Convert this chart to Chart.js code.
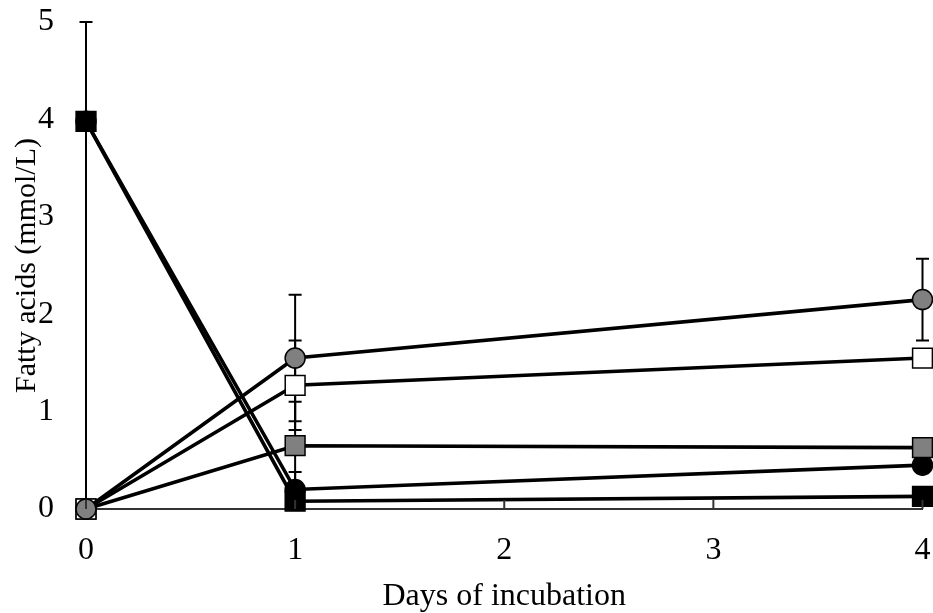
<!DOCTYPE html>
<html>
<head>
<meta charset="utf-8">
<script src="https://cdn.jsdelivr.net/npm/chart.js@4/dist/chart.umd.min.js"></script>
<style>
    html, body { margin: 0; padding: 0; background: #fff; overflow: hidden; }
    #chart { display: block; }
</style>
</head>
<body>
<!-- a few px wider than the window so the last x tick lands at 922 -->
<canvas id="chart" width="938" height="613"></canvas>
<script>
const days = [0, 1, 4];
const xTicks = [0, 1, 2, 3, 4];
const yTicks = [0, 1, 2, 3, 4, 5];

const grayCircle = [0, 1.55, 2.15];
const grayCircleErr = [0, 0.65, 0.42];
const whiteSquare = [0, 1.27, 1.55];
const whiteSquareErr = [0, 0.46, 0.04];
const graySquare = [0, 0.65, 0.63];
const graySquareErr = [0, 0.45, 0.04];
const blackCircle = [3.98, 0.2, 0.45];
const blackCircleErr = [0, 0.18, 0.04];
const blackSquare = [3.98, 0.08, 0.13];
const blackSquareErr = [1.02, 0.03, 0.03];
const blackSquareErrLow = [0, 0.03, 0.03];

const font = '"Liberation Serif", "Times New Roman", serif';

function makeSeries(values, errUp, errLow, fill, style, radius) {
    return {
        data: values.map((v, i) => ({ x: days[i], y: v })),
        errUp: errUp,
        errLow: errLow,
        borderColor: '#000',
        borderWidth: 3.6,
        backgroundColor: fill,
        pointBackgroundColor: fill,
        pointBorderColor: '#000',
        pointBorderWidth: 1.5,
        pointStyle: style,
        pointRadius: radius,
        tension: 0,
        clip: false
    };
}

// error bars drawn under the markers
const errorBars = {
    id: 'errorBars',
    beforeDatasetsDraw(chart) {
        const ctx = chart.ctx;
        const xs = chart.scales.x;
        const ys = chart.scales.y;
        ctx.save();
        ctx.strokeStyle = '#000';
        ctx.lineWidth = 2;
        chart.data.datasets.forEach(ds => {
            ds.data.forEach((p, i) => {
                const x = xs.getPixelForValue(p.x);
                const c = ys.getPixelForValue(p.y);
                const up = ds.errUp[i];
                const low = ds.errLow[i];
                ctx.beginPath();
                if (up) {
                    const top = ys.getPixelForValue(p.y + up);
                    ctx.moveTo(x, c);
                    ctx.lineTo(x, top);
                    ctx.moveTo(x - 6.5, top);
                    ctx.lineTo(x + 6.5, top);
                }
                if (low) {
                    const bot = ys.getPixelForValue(Math.max(0, p.y - low));
                    ctx.moveTo(x, c);
                    ctx.lineTo(x, bot);
                    if (p.y - low > 0) {
                        ctx.moveTo(x - 6.5, bot);
                        ctx.lineTo(x + 6.5, bot);
                    }
                }
                ctx.stroke();
            });
        });
        ctx.restore();
    }
};

// small inward tick marks on the x axis
const xTickMarks = {
    id: 'xTickMarks',
    afterDraw(chart) {
        const ctx = chart.ctx;
        const xs = chart.scales.x;
        const y0 = chart.chartArea.bottom;
        ctx.save();
        ctx.strokeStyle = '#333';
        ctx.lineWidth = 2;
        xTicks.forEach(t => {
            const x = xs.getPixelForValue(t);
            ctx.beginPath();
            ctx.moveTo(x, y0);
            ctx.lineTo(x, y0 - 9);
            ctx.stroke();
        });
        ctx.restore();
    }
};

new Chart(document.getElementById('chart'), {
    type: 'line',
    data: {
        datasets: [
            makeSeries(grayCircle, grayCircleErr, grayCircleErr, '#808080', 'circle', 10),
            makeSeries(whiteSquare, whiteSquareErr, whiteSquareErr, '#ffffff', 'rect', 14),
            makeSeries(graySquare, graySquareErr, graySquareErr, '#808080', 'rect', 14),
            makeSeries(blackCircle, blackCircleErr, blackCircleErr, '#000000', 'circle', 10),
            makeSeries(blackSquare, blackSquareErr, blackSquareErrLow, '#000000', 'rect', 14)
        ]
    },
    options: {
        responsive: false,
        animation: false,
        layout: { padding: { top: 22, right: 0, left: 0, bottom: 0 } },
        plugins: {
            legend: { display: false },
            tooltip: { enabled: false }
        },
        scales: {
            x: {
                type: 'linear',
                min: 0,
                max: 4,
                afterBuildTicks: s => { s.ticks = xTicks.map(v => ({ value: v })); },
                afterFit: s => {
                    s.height = 104;
                    s.paddingLeft = 0;
                    s.paddingRight = 0;
                },
                grid: { display: false, drawTicks: false },
                border: { display: true, color: '#333', width: 2 },
                ticks: { padding: 22, color: '#000', font: { family: font, size: 32 } },
                title: {
                    display: true,
                    text: 'Days of incubation',
                    color: '#000',
                    padding: 0,
                    font: { family: font, size: 32, lineHeight: 1 }
                }
            },
            y: {
                min: 0,
                max: 5,
                afterBuildTicks: s => { s.ticks = yTicks.map(v => ({ value: v })); },
                afterFit: s => {
                    s.width = 86;
                    s.paddingTop = 0;
                    s.paddingBottom = 0;
                },
                grid: { display: false, drawTicks: false },
                border: { display: true, color: '#000', width: 2 },
                ticks: { padding: 32, color: '#000', font: { family: font, size: 32 } },
                title: {
                    display: true,
                    text: 'Fatty acids (mmol/L)',
                    color: '#000',
                    padding: { top: 12, bottom: 0 },
                    font: { family: font, size: 30, lineHeight: 1 }
                }
            }
        }
    },
    plugins: [errorBars, xTickMarks]
});
</script>
</body>
</html>
